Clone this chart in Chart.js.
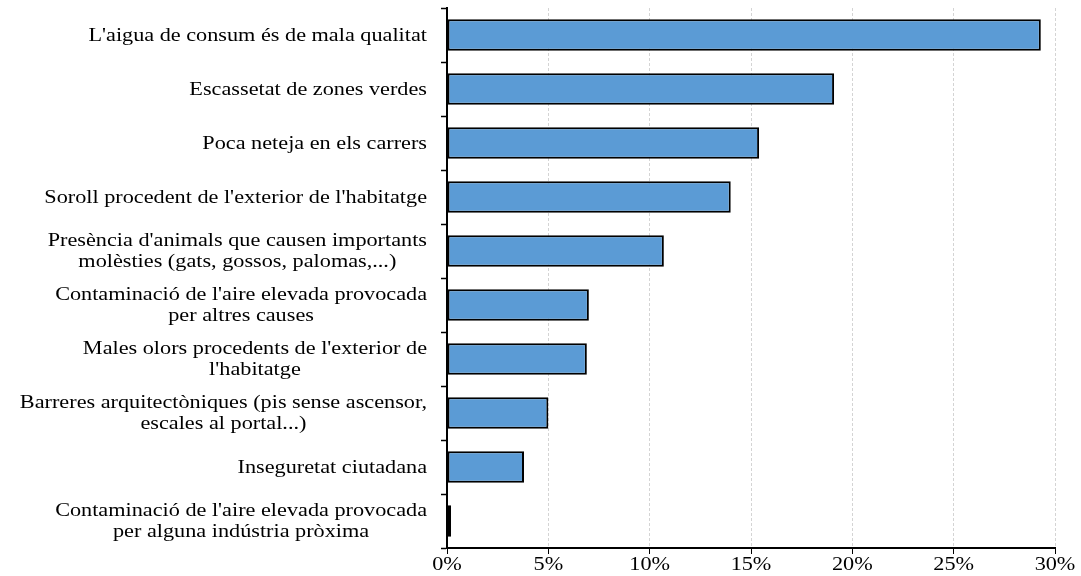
<!DOCTYPE html>
<html>
<head>
<meta charset="utf-8">
<script src="https://cdn.jsdelivr.net/npm/chart.js@4"></script>
<style>
  html, body { margin: 0; padding: 0; background: #fff; }
  #wrap { width: 1081px; height: 576px; position: relative; }
</style>
</head>
<body>
<div id="wrap"><canvas id="chart"></canvas></div>
<script>
const categories = [
    ["L'aigua de consum és de mala qualitat"],
    ["Escassetat de zones verdes"],
    ["Poca neteja en els carrers"],
    ["Soroll procedent de l'exterior de l'habitatge"],
    ["Presència d'animals que causen importants", "molèsties (gats, gossos, palomas,...)"],
    ["Contaminació de l'aire elevada provocada", "per altres causes"],
    ["Males olors procedents de l'exterior de", "l'habitatge"],
    ["Barreres arquitectòniques (pis sense ascensor,", "escales al portal...)"],
    ["Inseguretat ciutadana"],
    ["Contaminació de l'aire elevada provocada", "per alguna indústria pròxima"]
];
const values = [29.3, 19.1, 15.4, 14.0, 10.7, 7.0, 6.9, 5.0, 3.8, 0.2];
const xTicks = [0, 5, 10, 15, 20, 25, 30];

const FONT = "'Liberation Serif', 'Times New Roman', serif";
const FONT_SIZE = 19;
const STRETCH = 1.17;   // el text original és més ample que alt

function drawStretched(ctx, text, cx, cy) {
    ctx.save();
    ctx.translate(cx, cy);
    ctx.scale(STRETCH, 1);
    ctx.fillText(text, 0, 0);
    ctx.restore();
}

// etiquetes dels eixos dibuixades a mà: bloc alineat a la dreta, línies centrades
const labelPlugin = {
    id: 'axisLabels',
    afterDraw(chart) {
        const ctx = chart.ctx;
        const ys = chart.scales.y;
        const xs = chart.scales.x;
        ctx.save();
        ctx.font = FONT_SIZE + 'px ' + FONT;
        ctx.fillStyle = '#000';
        ctx.textAlign = 'center';
        ctx.textBaseline = 'middle';

        const right = ys.right - 20;
        const lineH = 21;
        categories.forEach((lines, i) => {
            const y = ys.getPixelForTick(i) + 1;
            const widest = Math.max(...lines.map(l => ctx.measureText(l).width)) * STRETCH;
            const cx = right - widest / 2;
            const y0 = y - (lines.length - 1) * lineH / 2;
            lines.forEach((l, j) => drawStretched(ctx, l, cx, y0 + j * lineH));
        });

        xTicks.forEach((v) => {
            drawStretched(ctx, v + '%', xs.getPixelForValue(v), xs.top + 17);
        });
        ctx.restore();
    }
};

new Chart(document.getElementById('chart'), {
    type: 'bar',
    data: {
        labels: categories,
        datasets: [{
            data: values,
            backgroundColor: '#5b9bd5',
            borderColor: '#000',
            borderWidth: 2,
            borderSkipped: false,
            categoryPercentage: 1,
            barPercentage: 0.58
        }]
    },
    options: {
        indexAxis: 'y',
        responsive: true,
        maintainAspectRatio: false,
        animation: false,
        layout: { padding: { top: 8, right: 26, bottom: 22, left: 0 } },
        plugins: { legend: { display: false }, tooltip: { enabled: false } },
        scales: {
            x: {
                min: 0,
                max: 30,
                afterBuildTicks: (scale) => { scale.ticks = xTicks.map(v => ({ value: v })); },
                grid: {
                    color: '#d4d4d4',
                    lineWidth: 1,
                    tickColor: '#000',
                    tickLength: 6,
                    tickWidth: 1
                },
                border: { color: '#000', width: 2, dash: [3, 2] },
                ticks: { display: false }
            },
            y: {
                afterFit: (scale) => { scale.width = 447; },
                grid: {
                    drawOnChartArea: false,
                    tickColor: '#000',
                    tickLength: 6,
                    tickWidth: 1.5
                },
                border: { color: '#000', width: 2 },
                ticks: { display: false }
            }
        }
    },
    plugins: [labelPlugin]
});
</script>
</body>
</html>
